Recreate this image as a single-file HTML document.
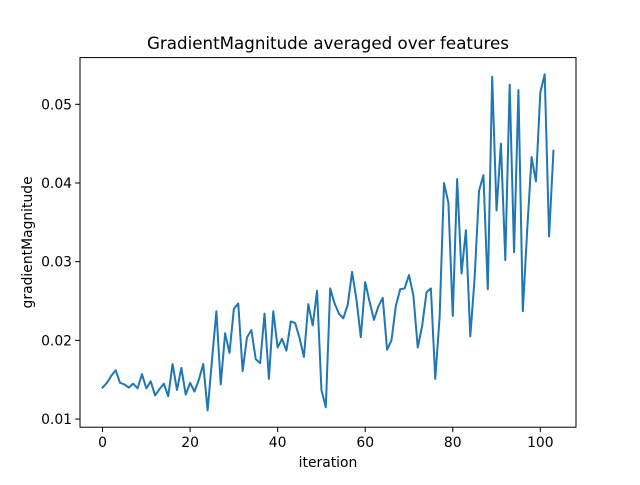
<!DOCTYPE html>
<html><head><meta charset="utf-8"><style>
body{margin:0;background:#fff}
svg text{font-family:"DejaVu Sans","Liberation Sans",sans-serif;fill:#000}
</style></head><body>
<svg id="chart" width="640" height="480" viewBox="0 0 640 480">
<rect width="640" height="480" fill="#fff"/>
<text x="328" y="49" font-size="16.7" text-anchor="middle">GradientMagnitude averaged over features</text>
<g id="xticks"></g>
<g id="yticks"></g>
<path id="line" fill="none" stroke="#1f77b4" stroke-width="2" stroke-linejoin="round" stroke-linecap="square"/>
<rect x="80" y="57.6" width="496" height="369.6" fill="none" stroke="#000" stroke-width="1"/>
<text x="328" y="467" font-size="13.9" text-anchor="middle">iteration</text>
<text transform="translate(32,242.4) rotate(-90)" font-size="13.9" text-anchor="middle">gradientMagnitude</text>
</svg>
<script>
const values = [.0140,.0146,.0155,.0162,.0146,.0144,.0140,.0145,.0139,.0157,.0139,.0148,.0130,.0138,.0145,.0129,.0170,.0137,.0165,.0131,.0146,.0135,.0150,.0170,.0111,.0175,.0237,.0144,.0209,.0184,.0240,.0247,.0161,.0204,.0213,.0176,.0171,.0234,.0151,.0237,.0191,.0202,.0187,.0224,.0222,.0203,.0179,.0246,.0219,.0263,.0137,.0115,.0266,.0247,.0234,.0228,.0245,.0287,.0252,.0204,.0274,.0249,.0226,.0243,.0254,.0188,.0200,.0244,.0265,.0266,.0283,.0257,.0191,.0218,.0261,.0266,.0151,.0230,.0400,.0375,.0231,.0405,.0285,.0340,.0205,.0280,.0390,.0410,.0265,.0535,.0365,.0450,.0302,.0525,.0312,.0518,.0237,.0340,.0433,.0402,.0515,.0538,.0332,.0441];
const xTicks = [0,20,40,60,80,100];
const yTicks = [0.01,0.02,0.03,0.04,0.05];
const yTickLabels = ["0.01","0.02","0.03","0.04","0.05"];

const L=80,R=576,T=57.6,B=427.2;
const n=values.length-1, xm=n*0.05;
const xMin=-xm, xMax=n+xm;
const vmin=Math.min(...values), vmax=Math.max(...values), vm=(vmax-vmin)*0.05;
const yMin=vmin-vm, yMax=vmax+vm;
const sx=v=>L+(v-xMin)/(xMax-xMin)*(R-L);
const sy=v=>B-(v-yMin)/(yMax-yMin)*(B-T);
const NS="http://www.w3.org/2000/svg";
let d="";
values.forEach((v,i)=>{d+=(i?"L":"M")+sx(i).toFixed(2)+","+sy(v).toFixed(2);});
document.getElementById('line').setAttribute('d',d);
const xg=document.getElementById('xticks');
xTicks.forEach(t=>{
  const l=document.createElementNS(NS,'line');
  
  
  l.setAttribute('x1',sx(t));l.setAttribute('x2',sx(t));l.setAttribute('y1',B);l.setAttribute('y2',B+4.9);l.setAttribute('stroke','#000');
  xg.appendChild(l);
  const tx=document.createElementNS(NS,'text');
  
  
  tx.setAttribute('x',sx(t));tx.setAttribute('y',B+20);tx.setAttribute('font-size','13.9');tx.setAttribute('text-anchor','middle');
  tx.textContent=t;xg.appendChild(tx);
});
const yg=document.getElementById('yticks');
yTicks.forEach((t,i)=>{
  const l=document.createElementNS(NS,'line');
  
  
  l.setAttribute('x1',L-4.9);l.setAttribute('x2',L);l.setAttribute('y1',sy(t));l.setAttribute('y2',sy(t));l.setAttribute('stroke','#000');
  yg.appendChild(l);
  const tx=document.createElementNS(NS,'text');
  
  
  tx.setAttribute('x',L-8);tx.setAttribute('y',sy(t)+5);tx.setAttribute('font-size','13.9');tx.setAttribute('text-anchor','end');
  tx.textContent=yTickLabels[i];yg.appendChild(tx);
});
</script>
</body></html>
